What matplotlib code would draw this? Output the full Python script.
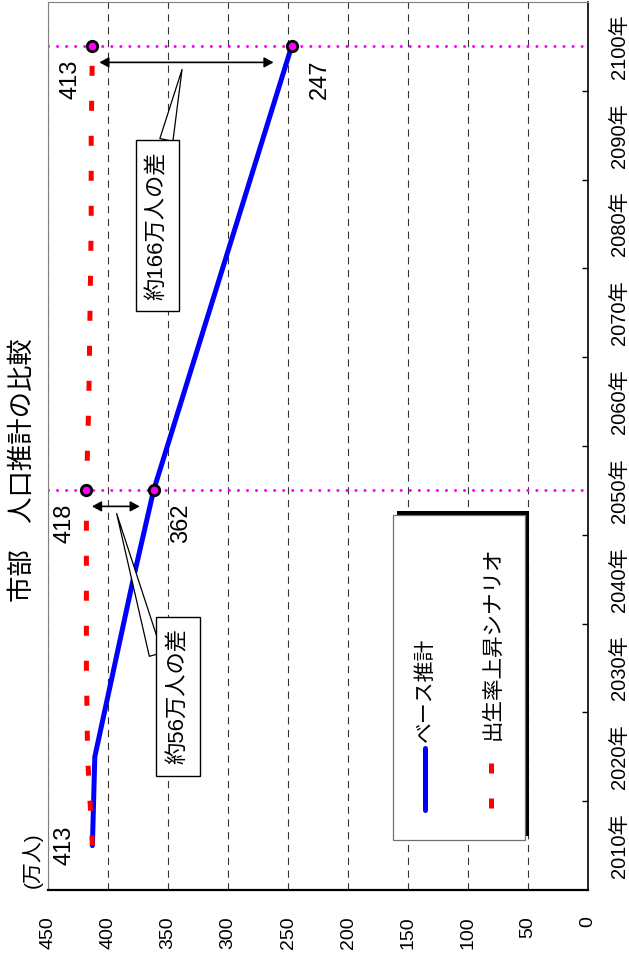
import matplotlib
matplotlib.use("Agg")
import matplotlib.pyplot as plt
from matplotlib.patches import Rectangle
from matplotlib.lines import Line2D

plt.rcParams['font.family'] = ['Liberation Sans', 'Noto Sans CJK JP']

# data (万人)
years = [2010, 2020, 2030, 2040, 2050, 2060, 2070, 2080, 2090, 2100]
year_labels = ['%d年' % y for y in years]
base = [413, 411, 395, 379, 362, 339, 316, 293, 270, 247]
high_birth = [413, 417, 418, 418, 418, 416, 415, 414, 414, 413]
value_ticks = [0, 50, 100, 150, 200, 250, 300, 350, 400, 450]

compare_years = [2050, 2100]
base_pts = [362, 247]
high_pts = [418, 413]
gap_labels = ['約56万人の差', '約166万人の差']

fig = plt.figure(figsize=(6.29, 9.61), dpi=100)
W, H = 629, 961
ax = fig.add_axes([48 / W, 1 - 890 / H, 540 / W, 888 / H])

ax.set_xlim(450, 0)
ax.set_ylim(2005, 2105)

# value axis (bottom)
ax.set_xticks(value_ticks)
ax.set_xticklabels([str(v) for v in value_ticks], rotation=90, fontsize=14)
ax.tick_params(axis='x', length=0, pad=19)
ax.xaxis.grid(True, color='#333333', lw=0.8, dashes=(6.5, 5))

# year axis (right), category style
ax.yaxis.tick_right()
ax.set_yticks([y + 5 for y in years[:-1]])
ax.set_yticklabels([])
ax.set_yticks(years, minor=True)
ax.set_yticklabels(year_labels, minor=True, rotation=90, va='center', fontsize=14.5)
ax.tick_params(axis='y', which='major', direction='in', length=4.5, width=1, right=True, left=False)
ax.tick_params(axis='y', which='minor', length=0, pad=16)

for s in ['left', 'top']:
    ax.spines[s].set_color('#808080')
    ax.spines[s].set_linewidth(0.8)
ax.spines['right'].set_linewidth(1.2)
ax.spines['bottom'].set_linewidth(1.6)

# comparison guides
for y in compare_years:
    ax.axhline(y, color='#FF00FF', lw=2.2, dashes=(0.01, 2.95),
               dash_capstyle='round', zorder=2)

ax.plot(base, years, color='#0000FF', lw=3.6, solid_capstyle='round', zorder=3)
ax.plot(high_birth, years, color='#FF0000', lw=3.6, dashes=(2, 5),
        dash_capstyle='butt', zorder=3)

ax.plot(high_pts + base_pts, compare_years + compare_years, 'o', ms=7.5,
        mfc='#FF00FF', mec='black', mew=2, zorder=4)

# value labels
lab_kw = dict(textcoords='offset points', rotation=90, fontsize=17,
              ha='center', va='center')
ax.annotate(str(base[0]), (base[0], years[0]), xytext=(-20, 0), **lab_kw)
for y, h, b in zip(compare_years, high_pts, base_pts):
    ax.annotate(str(h), (h, y), xytext=(-16, -24), **lab_kw)
    ax.annotate(str(b), (b, y), xytext=(20, -24), **lab_kw)

# difference arrows + callouts
shrink = [(4, 10), (5, 13)]
callout_pos = [(341.7, 2026.8), (358.8, 2079.8)]
relpos = [(0.0, 0.5), (0.8, 1.0)]
for y, h, b, txt, (sa, sb), pos, rp in zip(compare_years, high_pts, base_pts,
                                           gap_labels, shrink, callout_pos, relpos):
    ay = y - 1.8
    ax.annotate('', xy=(b, ay), xytext=(h, ay),
                arrowprops=dict(arrowstyle='<|-|>,head_length=0.55,head_width=0.3',
                                color='black', lw=1.2, shrinkA=sa, shrinkB=sb),
                zorder=5)
    tip = (h - (h - b) * 0.45, y - 2.6)
    ax.annotate(txt, xy=tip, xytext=pos, rotation=90, fontsize=16,
                ha='center', va='center', zorder=6,
                bbox=dict(boxstyle='square,pad=0.5', fc='white', ec='black', lw=1),
                arrowprops=dict(arrowstyle='wedge,tail_width=0.6', fc='white',
                                ec='black', lw=0.9, relpos=rp, shrinkA=0, shrinkB=0))

# legend (drawn by hand, rotated)
lx0, lx1 = 0.639, 0.883
ly0, ly1 = 0.0563, 0.4223
ax.add_patch(Rectangle((lx0 + 0.0074, ly0 + 0.0045), lx1 - lx0, ly1 - ly0,
                       transform=ax.transAxes, fc='black', ec='none', zorder=6))
ax.add_patch(Rectangle((lx0, ly0), lx1 - lx0, ly1 - ly0, transform=ax.transAxes,
                       fc='white', ec='#707070', lw=0.9, zorder=7))
ax.add_line(Line2D([0.698, 0.698], [0.090, 0.160], transform=ax.transAxes,
                   color='#0000FF', lw=3.6, solid_capstyle='round', zorder=8))
ax.add_line(Line2D([0.820, 0.820], [0.0923, 0.144], transform=ax.transAxes,
                   color='#FF0000', lw=3.6, dashes=(2, 5), zorder=8))
ax.text(0.698, 0.1667, 'ベース推計', transform=ax.transAxes, rotation=90,
        ha='center', va='bottom', fontsize=15, zorder=8)
ax.text(0.824, 0.169, '出生率上昇シナリオ', transform=ax.transAxes, rotation=90,
        ha='center', va='bottom', fontsize=15.5, zorder=8)

# title and unit
fig.text(23 / W, 1 - 470 / H, '市部　人口推計の比較', rotation=90,
         ha='center', va='center', fontsize=19)
fig.text(32 / W, 1 - 860 / H, '(万人)', rotation=90,
         ha='center', va='center', fontsize=15)

fig.savefig('out.png', dpi=100)
